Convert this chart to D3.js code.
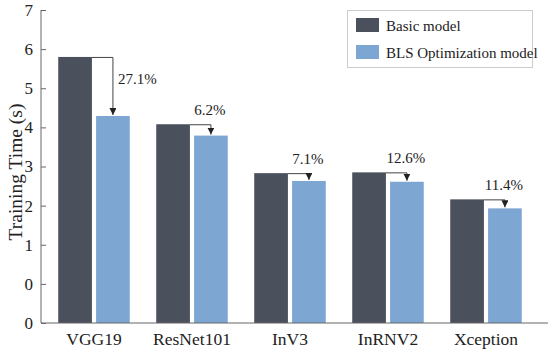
<!DOCTYPE html>
<html>
<head>
<meta charset="utf-8">
<script src="https://cdn.jsdelivr.net/npm/d3@7/dist/d3.min.js"></script>
<style>
  body { margin: 0; background: #fff; }
  svg text { font-family: 'Liberation Serif', serif; fill: #222; }
</style>
</head>
<body>
<svg id="chart" width="550" height="355" font-family="Liberation Serif"></svg>
<script>
const models = ['VGG19', 'ResNet101', 'InV3', 'InRNV2', 'Xception'];
const basicTime = [5.80, 4.08, 2.83, 2.85, 2.16];
const blsTime = [4.29, 3.79, 2.63, 2.61, 1.93];
const reduction = ['27.1%', '6.2%', '7.1%', '12.6%', '11.4%'];
const tickValues = [-1, 0, 1, 2, 3, 4, 5, 6, 7];
const tickLabels = ['0', '0', '1', '2', '3', '4', '5', '6', '7'];
const seriesNames = ['Basic model', 'BLS Optimization model'];
const colors = ['#4a505c', '#7ea6d3'];

const svg = d3.select('#chart');
const plotL = 41, plotR = 548, plotT = 10, plotB = 323;
const serif = 'Liberation Serif';

const y = d3.scaleLinear().domain([-1, 7]).range([plotB, plotT]);
const x = d3.scaleBand().domain(models).range([45, 535]).paddingInner(0.27).paddingOuter(0.135);
const sub = d3.scaleBand().domain([0, 1]).range([0, x.bandwidth()]).paddingInner(0.11);

// bars
models.forEach((m, i) => {
  [basicTime[i], blsTime[i]].forEach((v, k) => {
    svg.append('rect')
      .attr('x', x(m) + sub(k))
      .attr('y', y(v))
      .attr('width', sub.bandwidth())
      .attr('height', y(-1) - y(v))
      .attr('fill', colors[k]);
  });
});

// arrows
svg.append('defs').append('marker')
  .attr('id', 'arr')
  .attr('viewBox', '0 0 10 10')
  .attr('refX', 10).attr('refY', 5)
  .attr('markerWidth', 7).attr('markerHeight', 7)
  .attr('markerUnits', 'userSpaceOnUse')
  .attr('orient', 'auto')
  .append('path').attr('d', 'M0,0L10,5L0,10Z').attr('fill', '#222');

models.forEach((m, i) => {
  const x0 = x(m) + sub(0) + sub.bandwidth();
  const x1 = x(m) + sub(1) + sub.bandwidth() / 2;
  const y0 = y(basicTime[i]);
  const y1 = y(blsTime[i]);
  svg.append('path')
    .attr('d', `M${x0},${y0 + 0.5}H${x1}V${y1 - 1}`)
    .attr('fill', 'none')
    .attr('stroke', '#444')
    .attr('stroke-width', 1)
    .attr('marker-end', 'url(#arr)');
  const t = svg.append('text')
    .attr('font-family', serif)
    .style('font-size', '15px')
    .text(reduction[i]);
  if (i === 0) {
    t.attr('x', x1 + 5).attr('y', (y0 + y1) / 2 - 2);
  } else {
    t.attr('x', x1 - 1).attr('y', y0 - 9).attr('text-anchor', 'middle');
  }
});

// y axis
const yAxis = svg.append('g')
  .attr('transform', `translate(${plotL},0)`)
  .call(d3.axisRight(y).tickValues(tickValues).tickSize(5)
    .tickFormat((d, i) => tickLabels[i]));
yAxis.attr('font-family', serif);
yAxis.select('.domain').attr('stroke', '#666').attr('d', `M0,${plotT}V${plotB}`);
yAxis.selectAll('.tick line').attr('stroke', '#666');
yAxis.selectAll('.tick text')
  .attr('x', -8).attr('text-anchor', 'end')
  .style('font-size', '17px').attr('fill', '#333');

// x axis line
svg.append('line')
  .attr('x1', plotL).attr('x2', plotR)
  .attr('y1', plotB).attr('y2', plotB)
  .attr('stroke', '#666');

svg.selectAll('.xl')
  .data(models)
  .enter().append('text')
  .attr('font-family', serif)
  .attr('x', d => x(d) + x.bandwidth() / 2)
  .attr('y', 345)
  .attr('text-anchor', 'middle')
  .style('font-size', '17.5px')
  .text(d => d);

svg.append('text')
  .attr('font-family', serif)
  .attr('transform', 'translate(22,172) rotate(-90)')
  .attr('text-anchor', 'middle')
  .style('font-size', '19.5px')
  .text('Training Time (s)');

// legend
const lg = svg.append('g');
lg.append('rect')
  .attr('x', 347.5).attr('y', 10.5)
  .attr('width', 185).attr('height', 57)
  .attr('fill', '#fff').attr('stroke', '#ccc');
seriesNames.forEach((s, k) => {
  lg.append('rect')
    .attr('x', 356).attr('y', 18 + k * 27)
    .attr('width', 23).attr('height', 14)
    .attr('fill', colors[k]);
  lg.append('text')
    .attr('font-family', serif)
    .attr('x', 386).attr('y', 31 + k * 27)
    .style('font-size', '15px')
    .text(s);
});
</script>
</body>
</html>
